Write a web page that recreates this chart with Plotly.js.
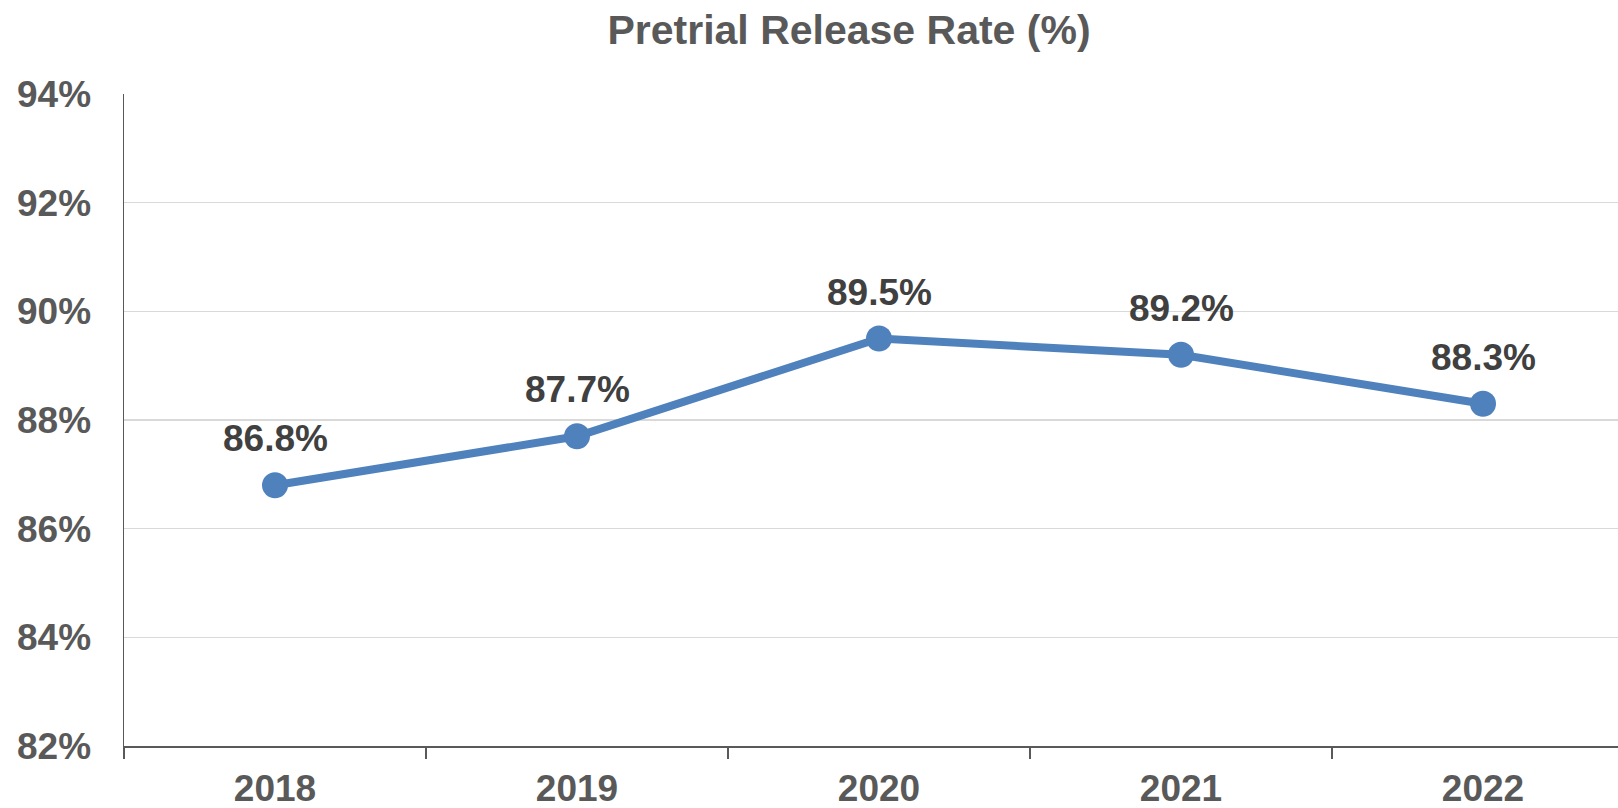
<!DOCTYPE html>
<html>
<head>
<meta charset="utf-8">
<script src="https://cdn.plot.ly/plotly-3.0.1.min.js"></script>
<style>
html, body { margin: 0; padding: 0; background: #ffffff; }
#chart { width: 1618px; height: 808px; }
</style>
</head>
<body>
<div id="chart"></div>
<script>
const years = ['2018', '2019', '2020', '2021', '2022'];
const releaseRate = [86.8, 87.7, 89.5, 89.2, 88.3];
const labels = ['86.8%', '87.7%', '89.5%', '89.2%', '88.3%'];
const yTicks = [82, 84, 86, 88, 90, 92, 94];
const yTickText = ['82%', '84%', '86%', '88%', '90%', '92%', '94%'];

const FONT = '"Liberation Sans", Arial, sans-serif';

const trace = {
  type: 'scatter',
  mode: 'lines+markers',
  x: years,
  y: releaseRate,
  line: { color: '#4f81bd', width: 8 },
  marker: { color: '#4f81bd', size: 26 },
  hoverinfo: 'skip'
};

const annotations = years.map((yr, i) => ({
  x: i,
  y: releaseRate[i],
  xref: 'x',
  yref: 'y',
  text: '<b>' + labels[i] + '</b>',
  showarrow: false,
  xanchor: 'center',
  yanchor: 'bottom',
  yshift: 24,
  font: { family: FONT, size: 37, color: '#404040' }
}));

const layout = {
  width: 1618,
  height: 808,
  paper_bgcolor: '#ffffff',
  plot_bgcolor: '#ffffff',
  showlegend: false,
  margin: { l: 124, r: 0, t: 94, b: 62 },
  title: {
    text: '<b>Pretrial Release Rate (%)</b>',
    x: 849 / 1618,
    xref: 'container',
    xanchor: 'center',
    y: 1 - 30 / 808,
    yref: 'container',
    yanchor: 'middle',
    font: { family: FONT, size: 41, color: '#595959' }
  },
  xaxis: {
    type: 'category',
    range: [-0.5, 4.447],
    showgrid: false,
    zeroline: false,
    showline: true,
    linecolor: '#595959',
    linewidth: 1.5,
    ticks: 'outside',
    tickson: 'boundaries',
    ticklen: 11,
    tickwidth: 1.5,
    tickcolor: '#595959',
    ticklabelstandoff: 9,
    tickfont: { family: FONT, size: 37, color: '#595959', weight: 700 },
    fixedrange: true
  },
  yaxis: {
    range: [82, 94],
    tickvals: yTicks,
    ticktext: yTickText,
    showgrid: true,
    gridcolor: '#d9d9d9',
    gridwidth: 1.3,
    zeroline: false,
    showline: true,
    linecolor: '#595959',
    linewidth: 1.5,
    ticks: 'outside',
    ticklen: 24,
    tickcolor: 'rgba(0,0,0,0)',
    tickfont: { family: FONT, size: 37, color: '#595959', weight: 700 },
    fixedrange: true
  },
  annotations: annotations
};

Plotly.newPlot('chart', [trace], layout, { displayModeBar: false, staticPlot: true });
</script>
</body>
</html>
